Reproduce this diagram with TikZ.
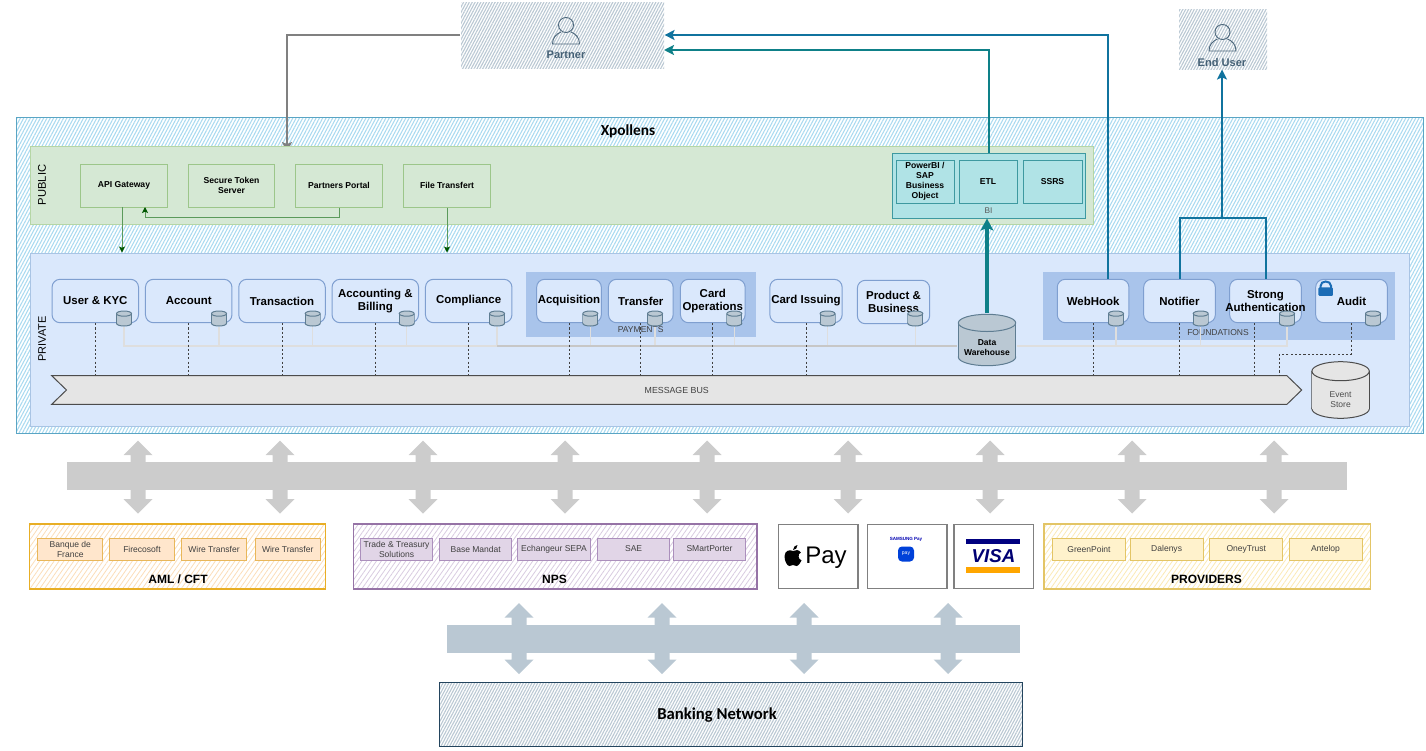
\documentclass[tikz,border=0pt]{standalone}
\usepackage{fontspec}
\setmainfont{Liberation Sans}
\newfontfamily\titlefont{Carlito}
\usetikzlibrary{arrows,arrows.meta}
\usetikzlibrary{patterns.meta}
\usetikzlibrary{shapes.symbols,shapes.arrows}
\definecolor{xphatch}{HTML}{A9DAF0}
\definecolor{xpline}{HTML}{5AA5C4}
\definecolor{pubfill}{HTML}{D5E8D4}
\definecolor{publine}{HTML}{B5D6A5}
\definecolor{pubitem}{HTML}{9CC68A}
\definecolor{privfill}{HTML}{DAE8FC}
\definecolor{privline}{HTML}{A9C4E4}
\definecolor{groupfill}{HTML}{A9C4EB}
\definecolor{itemline}{HTML}{7F9FD0}
\definecolor{slate}{HTML}{BAC8D3}
\definecolor{slateline}{HTML}{5F7D92}
\definecolor{navy}{HTML}{23445D}
\definecolor{bifill}{HTML}{B0E3E6}
\definecolor{tealline}{HTML}{0E8088}
\definecolor{blueline}{HTML}{10739E}
\definecolor{greenline}{HTML}{5B9A5B}
\definecolor{greentip}{HTML}{005700}
\definecolor{orangefill}{HTML}{FFE6CC}
\definecolor{orangehatch}{HTML}{FBDDB8}
\definecolor{orangeline}{HTML}{E8AE25}
\definecolor{orangeitem}{HTML}{E8B75A}
\definecolor{purplefill}{HTML}{E1D5E7}
\definecolor{purplehatch}{HTML}{D8CBE0}
\definecolor{purpleline}{HTML}{9673A6}
\definecolor{purpleitem}{HTML}{AB8FBC}
\definecolor{yellowfill}{HTML}{FFF2CC}
\definecolor{yellowhatch}{HTML}{FBE9B4}
\definecolor{yellowline}{HTML}{E3C566}
\definecolor{lockblue}{HTML}{1B6CB5}
\tikzset{wh/.style 2 args={minimum width=#1*0.75pt,minimum height=#2*0.75pt}}
\tikzset{person/.pic={
  \draw[navy!80,line width=0.7pt] (0,-10) circle [x radius=7.5,y radius=7.5];
  \draw[navy!80,line width=0.7pt] (-5,-3) .. controls (-10,-1) and (-13.5,3) .. (-13.5,9) -- (13.5,9) .. controls (13.5,3) and (10,-1) .. (5,-3);
}}
% half width, half height, rim radius, fill, line
\tikzset{drum/.style n args={5}{inner sep=0pt, wh={(2*#1+1)}{(2*#2+1)}, align=center, path picture={
  \begin{scope}[shift={(path picture bounding box.center)}]
    \path[fill=#4, draw=#5] (0,#2-#3) circle [x radius=#1, y radius=#3];
    \fill[#4] (-#1,-#2+#3) rectangle (#1,#2-#3);
    \draw[#5] (-#1,-#2+#3) -- (-#1,#2-#3) (#1,-#2+#3) -- (#1,#2-#3);
    \path[fill=#4, draw=#5] (0,-#2+#3) circle [x radius=#1, y radius=#3];
  \end{scope}}}}
\begin{document}
\begin{tikzpicture}[x=0.75pt,y=-0.75pt,line width=0.75pt,>={Stealth[length=7.5pt,width=7.5pt,inset=1.6pt]}]
      \tikzstyle{hatch blue} = [draw=xpline, pattern={Lines[angle=62,distance=2.2pt,line width=0.8pt]}, pattern color=xphatch]
      \tikzstyle{hatch slate} = [pattern={Lines[angle=62,distance=1.9pt,line width=0.85pt]}, pattern color=slate]
      \tikzstyle{hatch group} = [line width=1.1pt, pattern={Lines[angle=55,distance=3pt,line width=0.6pt]}]
      \tikzstyle{public item} = [draw=pubitem, fill=pubfill, wh={86.5}{43}, inner sep=0pt, align=center, font=\fontsize{6.45}{7.5}\selectfont\bfseries]
      \tikzstyle{bi item} = [draw=tealline!80, fill=bifill, inner sep=0pt, align=center, font=\fontsize{6.45}{7.5}\selectfont\bfseries]
      \tikzstyle{service} = [draw=itemline, fill=privfill, rounded corners=6pt, inner sep=0pt, align=center, font=\fontsize{8.6}{10}\selectfont\bfseries]
      \tikzstyle{small db} = [drum={7.5}{7.5}{2.6}{slate}{slateline}]
      \tikzstyle{vendor item} = [inner sep=0pt, align=center, wh={65}{22}, font=\fontsize{6.4}{7.5}\selectfont, text=black!75]
      \tikzstyle{group title} = [font=\fontsize{9}{11}\selectfont\bfseries]
      \tikzstyle{logo box} = [draw=black!50, line width=1.1pt, fill=white, wh={79.5}{64.5}]
      \tikzstyle{bus arrow} = [double arrow, rotate=90, double arrow tip angle=90, double arrow head extend=5.25pt, inner sep=5.25pt]
      \tikzstyle{dotted bus} = [black!75, dash pattern=on 1.6pt off 1.6pt]
      \tikzstyle{db line} = [black!13, line width=1pt]
      \tikzstyle{green link} = [greenline, line width=0.75pt, -{Stealth[color=greentip,length=4.5pt,width=4.5pt,inset=1pt]}]
      \useasboundingbox (0,0) rectangle (1426,750);

      %containers
      \node[hatch blue, wh={1407}{316}] (xpollens) at (719.5,275) {};
      \node[hatch slate, wh={203}{66}] (partner) at (562.5,35) {};
      \node[hatch slate, wh={88}{60}] (enduser) at (1223,39) {};
      \coordinate (portalin) at (287,152);
      \draw[black!50, line width=1.5pt, ->] (partner.west) -| (portalin);
      \node[draw=publine, fill=pubfill, wh={1063}{78}] (public) at (561.5,185) {};
      \node[draw=privline, fill=privfill, wh={1379}{173}] (private) at (719.5,339.5) {};
      \node[fill=groupfill, wh={230}{64.5}] (payments) at (641,304.5) {};
      \node[fill=groupfill, wh={351.5}{67.5}] (foundations) at (1219,306) {};
      \node[draw=tealline!80, fill=bifill, wh={193}{65}] (bi) at (988.5,185.5) {};

      %titles
      \node[font=\titlefont\fontsize{11.5}{13}\selectfont\bfseries] (xptitle) at (628,131) {Xpollens};
      \node[rotate=90, font=\fontsize{8.4}{10}\selectfont] (publictitle) at (42,185) {PUBLIC};
      \node[rotate=90, font=\fontsize{8.2}{10}\selectfont] (privatetitle) at (42,339) {PRIVATE};
      \pic at (566,35) {person};
      \node[text=navy!85, font=\fontsize{8.3}{10}\selectfont\bfseries] (partnerlabel) at (566,55) {Partner};
      \pic at (1222.5,42) {person};
      \node[text=navy!85, font=\fontsize{8.3}{10}\selectfont\bfseries] (enduserlabel) at (1222,62.5) {End User};

      %public nodes
      \node[public item] (gateway) at (124,185.5) {API Gateway};
      \node[public item] (token) at (231.5,185.5) {Secure Token\\Server};
      \node[public item] (portal) at (339,185.5) {Partners Portal};
      \node[public item] (file) at (447,185.5) {File Transfert};
      \node[bi item, wh={58}{43}] (powerbi) at (925,181.5) {PowerBI /\\SAP\\Business\\Object};
      \node[bi item, wh={58}{43}] (etl) at (988,181.5) {ETL};
      \node[bi item, wh={59}{43}] (ssrs) at (1052.5,181.5) {SSRS};
      \node[text=black!65, font=\fontsize{6.2}{8}\selectfont] (bilabel) at (988.5,211) {BI};

      %message bus
      \node[signal, signal from=west, signal to=east, signal pointer angle=88, draw=black!70, fill=black!10, wh={1250}{28.6}, inner sep=0pt, text=black!75, font=\fontsize{6.6}{8}\selectfont] (bus) at (676.7,390) {MESSAGE BUS};

      %services
      \node[service, wh={86.5}{43.4}] (user) at (95.3,301) {User \& KYC};
      \node[service, wh={86.5}{43.4}] (account) at (188.7,301) {Account};
      \node[service, wh={86.5}{43.4}] (transaction) at (282,301) {Transaction};
      \node[service, wh={86.5}{43.4}] (billing) at (375.3,301) {Accounting \&\\Billing};
      \node[service, wh={86.5}{43.4}] (compliance) at (468.7,301) {Compliance};
      \node[service, wh={64.7}{43.4}] (acquisition) at (569,301) {Acquisition};
      \node[service, wh={64.7}{43.4}] (transfer) at (640.8,301) {Transfer};
      \node[service, wh={64.7}{43.4}] (cardops) at (712.8,301) {Card\\\makebox[0pt]{Operations}};
      \node[service, wh={72.3}{43.4}] (issuing) at (806,301) {Card Issuing};
      \node[service, wh={72.3}{43.4}] (product) at (893.5,302) {Product \&\\Business};
      \node[service, wh={71.7}{43.4}] (webhook) at (1093.1,301) {WebHook};
      \node[service, wh={71.7}{43.4}] (notifier) at (1179.5,301) {Notifier};
      \node[service, wh={71.7}{43.4}] (strong) at (1265.5,301) {Strong\\\makebox[0pt]{Authentication}};
      \node[service, wh={71.7}{43.4}] (audit) at (1351.5,301) {Audit};
      \node[text=black!75, font=\fontsize{6.4}{8}\selectfont] (paylabel) at (640.7,330) {PAYMENTS};
      \node[text=black!75, font=\fontsize{6.4}{8}\selectfont] (foundlabel) at (1218,333) {FOUNDATIONS};

      %lock
      \node[fill=lockblue, rounded corners=0.8pt, wh={14.5}{8.5}, inner sep=0pt] (lock) at (1325.7,291.7) {};
      \draw[lockblue, line width=1.5pt] (1320.5,288) -- (1320.5,286) .. controls (1320.5,280) and (1331,280) .. (1331,286) -- (1331,288);

      %databases
      \node[small db] (userdb) at (124,318.5) {};
      \node[small db] (accountdb) at (219,318.5) {};
      \node[small db] (transactiondb) at (312.7,318.5) {};
      \node[small db] (billingdb) at (406.7,318.5) {};
      \node[small db] (compliancedb) at (497,318.5) {};
      \node[small db] (acquisitiondb) at (590.3,318.5) {};
      \node[small db] (transferdb) at (655,318.5) {};
      \node[small db] (cardopsdb) at (734.3,318.5) {};
      \node[small db] (issuingdb) at (827.5,318.5) {};
      \node[small db] (productdb) at (915.3,318.5) {};
      \node[small db] (webhookdb) at (1116,318.5) {};
      \node[small db] (notifierdb) at (1200.7,318.5) {};
      \node[small db] (strongdb) at (1287,318.5) {};
      \node[small db] (auditdb) at (1373,318.5) {};
      \node[drum={28.7}{25.7}{8.6}{slate}{slateline}] (warehouse) at (987,340) {};
      \node[align=center, inner sep=0pt, font=\fontsize{6.4}{7.5}\selectfont\bfseries] (warehouselabel) at (987,348) {Data\\Warehouse};
      \node[drum={28.7}{28.3}{9.5}{black!10}{black!70}] (eventstore) at (1340.6,390) {};
      \node[align=center, inner sep=0pt, text=black!70, font=\fontsize{6.4}{7.5}\selectfont] (eventlabel) at (1340.6,400) {Event\\Store};

      %lines
      \coordinate (dbrail) at (0,346);
      \foreach \n in {accountdb,transactiondb,billingdb,compliancedb,acquisitiondb,transferdb,cardopsdb,issuingdb,productdb,notifierdb,webhookdb}
         \draw[db line] (\n.south) -- (\n.south |- dbrail);
      \draw[db line] (userdb.south) |- (warehouse.west |- dbrail);
      \draw[db line] (warehouse.east |- dbrail) -| (strongdb.south);
      \draw[black!22, line width=1pt] (compliancedb.south |- dbrail) -- (warehouse.west |- dbrail);
      \foreach \n in {user,account,transaction,billing,compliance,acquisition,transfer,cardops,issuing,webhook,notifier}
         \draw[dotted bus] (\n.south) -- (\n.south |- bus.north);
      \draw[dotted bus] ([xshift=-8.1pt]strong.south) -- ([xshift=-8.1pt]strong.south |- bus.north);
      \coordinate (auditbend) at (1279.3,354);
      \draw[dotted bus] (audit.south) |- (auditbend) -- (auditbend |- bus.north);

      \coordinate (gatewayout) at (122,207);
      \coordinate (gatewayin) at (145,207);
      \coordinate (portalback) at (145,217);
      \draw[green link] (gatewayout) -- (gatewayout |- private.north);
      \draw[green link] (file.south) -- (file.south |- private.north);
      \draw[green link] (portal.south) |- (portalback) -- (gatewayin);

      \coordinate (tealin) at (664,50);
      \draw[tealline, line width=1.5pt, ->] (bi.north) |- (tealin);
      \draw[blueline, line width=1.5pt, ->] ([xshift=11.25pt]webhook.north) |- (partner.east);
      \draw[tealline, line width=2.4pt, -{Stealth[length=9pt,width=9.5pt,inset=2pt]}] (warehouse.north) -- (warehouse.north |- bi.south);
      \coordinate (authjoin) at (1222,218);
      \draw[blueline, line width=1.5pt] (notifier.north) |- (authjoin) -| (strong.north);
      \draw[blueline, line width=1.5pt, ->] (authjoin) -- (enduser.south -| authjoin);

      %upper exchange
      \foreach \x [count=\i] in {138,280,423,565,707,848,990,1132,1274}
         \node[bus arrow, fill=black!20, wh={28}{73}] (upper\i) at (\x,477) {};
      \node[fill=black!20, wh={1280}{28}, inner sep=0pt] (upperbar) at (707,476) {};

      %vendors
      \node[hatch group, draw=orangeline, pattern color=orangehatch, wh={295.5}{65}] (aml) at (177.5,556.5) {};
      \node[vendor item, draw=orangeitem, fill=orangefill] (banque) at (70.3,549) {Banque de\\France};
      \node[vendor item, draw=orangeitem, fill=orangefill] (firecosoft) at (142,549) {Firecosoft};
      \node[vendor item, draw=orangeitem, fill=orangefill] (wireone) at (214,549) {Wire Transfer};
      \node[vendor item, draw=orangeitem, fill=orangefill] (wiretwo) at (287.7,549) {Wire Transfer};
      \node[group title] (amltitle) at (178,579) {AML / CFT};

      \node[hatch group, draw=purpleline, pattern color=purplehatch, wh={403.5}{65}] (nps) at (555.2,556.5) {};
      \node[vendor item, draw=purpleitem, fill=purplefill, wh={72}{22}] (trade) at (396.6,549) {Trade \& Treasury\\Solutions};
      \node[vendor item, draw=purpleitem, fill=purplefill, wh={72}{22}] (mandat) at (475.7,549) {Base Mandat};
      \node[vendor item, draw=purpleitem, fill=purplefill, wh={72.5}{22}] (sepa) at (554,549) {Echangeur SEPA};
      \node[vendor item, draw=purpleitem, fill=purplefill, wh={72.5}{22}] (sae) at (633.6,549) {SAE};
      \node[vendor item, draw=purpleitem, fill=purplefill, wh={72}{22}] (porter) at (709.5,549) {SMartPorter};
      \node[group title] (npstitle) at (554.5,579) {NPS};

      \node[logo box] (apple) at (818.2,556.5) {};
      \node[logo box] (samsung) at (907.2,556.5) {};
      \node[logo box] (visa) at (993.8,556.5) {};
      \fill[black] (793,551) .. controls (790,549.5) and (785,550) .. (784.5,556) .. controls (784.5,561) and (787,566) .. (789.5,566) .. controls (791,566) and (791.5,565) .. (793,565) .. controls (794.5,565) and (795,566) .. (796.5,566) .. controls (798.5,566) and (800.5,562.5) .. (801.5,560.5) .. controls (798,559) and (797.5,554) .. (800.8,552.5) .. controls (799,549.5) and (795.5,549.5) .. (793,551) -- cycle;
      \fill[black] (793,550) .. controls (793,547) and (795.5,545) .. (797.5,545) .. controls (797.5,548) and (795.5,550) .. (793,550) -- cycle;
      \node[font=\fontsize{18}{20}\selectfont, inner sep=0pt] (applepay) at (826,558) {Pay};
      \node[text=blue!70!black, font=\fontsize{3.4}{4}\selectfont\bfseries, inner sep=0pt] (samsungmark) at (906,539) {SAMSUNG Pay};
      \node[fill=blue!70!cyan!85!black, rounded corners=3pt, wh={16}{15}, inner sep=0pt, text=white, font=\fontsize{3.8}{4}\selectfont] (samsungpay) at (906,554) {pay};
      \node[fill=blue!50!black, wh={54}{5}, inner sep=0pt] (visatop) at (993.3,541.5) {};
      \node[text=blue!45!black, font=\fontsize{14}{16}\selectfont\bfseries\itshape, inner sep=0pt] (visamark) at (993.5,556) {VISA};
      \node[fill=orange!70!yellow, wh={54}{5.4}, inner sep=0pt] (visabottom) at (993.3,570) {};

      \node[hatch group, draw=yellowline, pattern color=yellowhatch, wh={326.5}{65}] (providers) at (1207,556.5) {};
      \node[vendor item, draw=yellowline, fill=yellowfill, wh={73}{22}] (greenpoint) at (1089,549) {GreenPoint};
      \node[vendor item, draw=yellowline, fill=yellowfill, wh={73}{22}] (dalenys) at (1166.6,549) {Dalenys};
      \node[vendor item, draw=yellowline, fill=yellowfill, wh={73}{22}] (oney) at (1246.3,549) {OneyTrust};
      \node[vendor item, draw=yellowline, fill=yellowfill, wh={73}{22}] (antelop) at (1325.5,549) {Antelop};
      \node[group title] (providerstitle) at (1206.5,579) {PROVIDERS};

      %lower exchange
      \foreach \x [count=\i] in {519,662,804,948}
         \node[bus arrow, fill=slate, wh={28}{71}] (lower\i) at (\x,638.5) {};
      \node[fill=slate, wh={573}{28}, inner sep=0pt] (lowerbar) at (733.5,639) {};

      %banking
      \node[hatch slate, draw=navy, wh={583}{64}] (banking) at (730.5,714) {};
      \node[font=\titlefont\fontsize{12.5}{14}\selectfont\bfseries] (bankinglabel) at (717,715) {Banking Network};
    \end{tikzpicture}
\end{document}
